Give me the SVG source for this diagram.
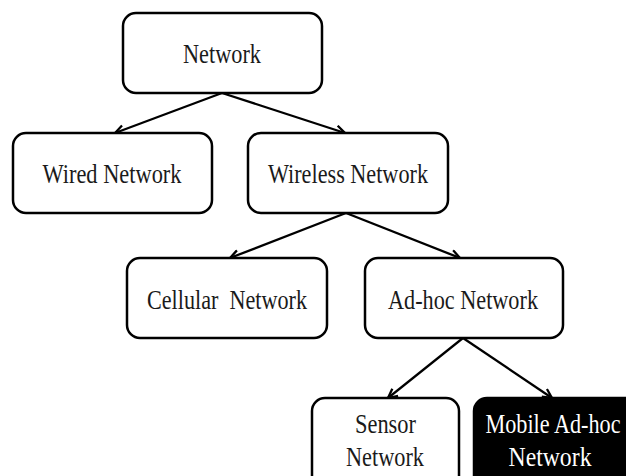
<svg xmlns="http://www.w3.org/2000/svg" width="626" height="476" viewBox="0 0 626 476">
<defs>
<style>
.box{fill:#fff;stroke:#000;stroke-width:2.5}
.dark{fill:#000;stroke:#000;stroke-width:2.5}
.lbl{font-family:"Liberation Serif","Times New Roman",serif;font-size:27px;fill:#1a1a1a;text-anchor:middle}
.inv{fill:#fff}
.edge{stroke:#000;stroke-width:2.3;fill:none;marker-end:url(#arr)}
</style>
<marker id="arr" viewBox="0 0 10 10" refX="9" refY="5" markerWidth="5" markerHeight="5" orient="auto" markerUnits="strokeWidth">
<path d="M1,1 L9,5 L1,9" fill="none" stroke="#000" stroke-width="2"/>
</marker>
</defs>
<rect width="626" height="476" fill="#fff"/>
<g id="connectors">
<line class="edge" x1="222" y1="93" x2="115" y2="133"/>
<line class="edge" x1="222" y1="93" x2="345" y2="133"/>
<line class="edge" x1="346" y1="213" x2="230" y2="258"/>
<line class="edge" x1="346" y1="213" x2="460" y2="258"/>
<line class="edge" x1="463" y1="338" x2="388" y2="398"/>
<line class="edge" x1="463" y1="338" x2="552" y2="398"/>
</g>
<g id="network">
<rect class="box" x="123" y="13" width="199" height="80" rx="13"/>
<text class="lbl" x="222" y="63" textLength="78" lengthAdjust="spacingAndGlyphs">Network</text>
</g>
<g id="wired">
<rect class="box" x="13" y="133" width="199" height="80" rx="13"/>
<text class="lbl" x="112" y="183" textLength="139" lengthAdjust="spacingAndGlyphs">Wired Network</text>
</g>
<g id="wireless">
<rect class="box" x="248" y="133" width="200" height="80" rx="13"/>
<text class="lbl" x="348" y="183" textLength="160" lengthAdjust="spacingAndGlyphs">Wireless Network</text>
</g>
<g id="cellular">
<rect class="box" x="127" y="258" width="200" height="80" rx="13"/>
<text class="lbl" x="227" y="309" textLength="160" lengthAdjust="spacingAndGlyphs" xml:space="preserve">Cellular  Network</text>
</g>
<g id="adhoc">
<rect class="box" x="365" y="258" width="198" height="80" rx="13"/>
<text class="lbl" x="463" y="309" textLength="150" lengthAdjust="spacingAndGlyphs">Ad-hoc Network</text>
</g>
<g id="sensor">
<rect class="box" x="312" y="398" width="147" height="95" rx="13"/>
<text class="lbl" x="385.5" y="433" textLength="61" lengthAdjust="spacingAndGlyphs">Sensor</text>
<text class="lbl" x="385" y="466" textLength="78" lengthAdjust="spacingAndGlyphs">Network</text>
</g>
<g id="mobile">
<rect class="dark" x="474" y="398" width="170" height="95" rx="13"/>
<text class="lbl inv" x="553" y="433" textLength="135" lengthAdjust="spacingAndGlyphs">Mobile Ad-hoc</text>
<text class="lbl inv" x="550" y="466" textLength="83" lengthAdjust="spacingAndGlyphs">Network</text>
</g>
</svg>
